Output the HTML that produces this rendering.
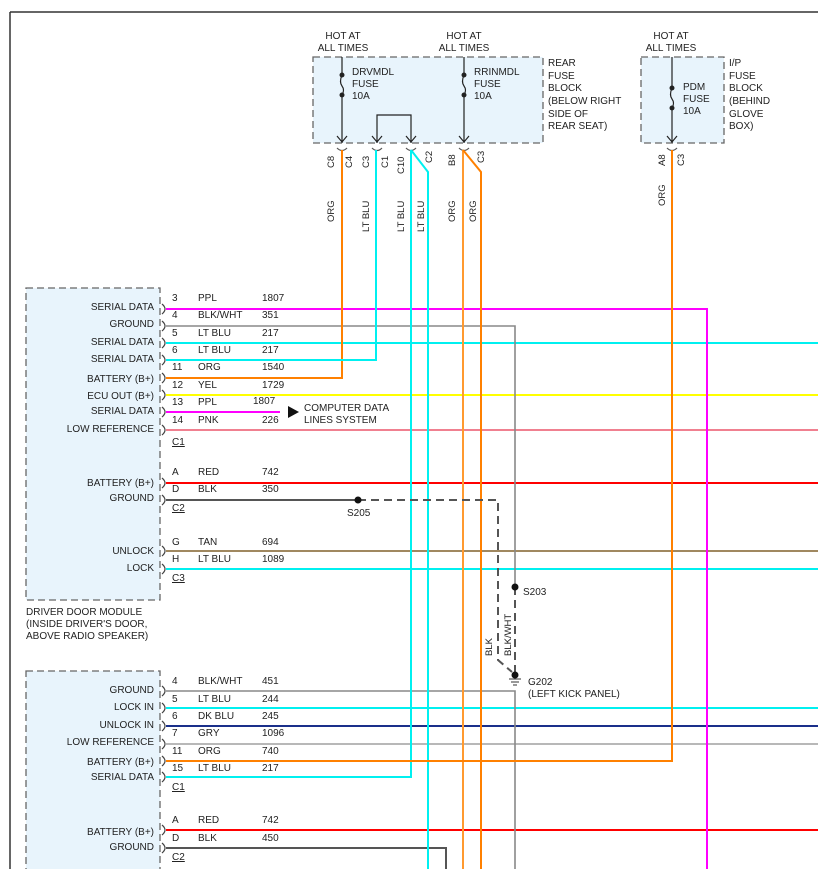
<!DOCTYPE html>
<html><head><meta charset="utf-8"><style>
html,body{margin:0;padding:0;background:#fff;}
svg{display:block;font-family:"Liberation Sans",Arial,sans-serif;font-size:10px;fill:#222;}
text{fill:#222;}
</style></head><body>
<svg width="818" height="869" viewBox="0 0 818 869" xmlns="http://www.w3.org/2000/svg">
<!-- frame -->
<line x1="10" y1="12" x2="818" y2="12" stroke="#333" stroke-width="1.5"/>
<line x1="10" y1="12" x2="10" y2="869" stroke="#333" stroke-width="1.5"/>

<!-- fuse block boxes -->
<rect x="313" y="57" width="230" height="86" fill="#e8f4fc" stroke="#666" stroke-width="1.3" stroke-dasharray="7,4"/>
<rect x="641" y="57" width="83" height="86" fill="#e8f4fc" stroke="#666" stroke-width="1.3" stroke-dasharray="7,4"/>
<!-- module boxes -->
<rect x="26" y="288" width="134" height="312" fill="#e8f4fc" stroke="#666" stroke-width="1.3" stroke-dasharray="7,4"/>
<rect x="26" y="671" width="134" height="210" fill="#e8f4fc" stroke="#666" stroke-width="1.3" stroke-dasharray="7,4"/>

<g font-size="10">
<text x="343" y="39" text-anchor="middle">HOT AT</text>
<text x="343" y="51" text-anchor="middle">ALL TIMES</text>
<text x="464" y="39" text-anchor="middle">HOT AT</text>
<text x="464" y="51" text-anchor="middle">ALL TIMES</text>
<text x="671" y="39" text-anchor="middle">HOT AT</text>
<text x="671" y="51" text-anchor="middle">ALL TIMES</text>
<text x="352" y="75">DRVMDL</text><text x="352" y="87">FUSE</text><text x="352" y="99">10A</text>
<text x="474" y="75">RRINMDL</text><text x="474" y="87">FUSE</text><text x="474" y="99">10A</text>
<text x="683" y="90">PDM</text><text x="683" y="102">FUSE</text><text x="683" y="114">10A</text>
<text x="548" y="66">REAR</text><text x="548" y="79">FUSE</text><text x="548" y="91">BLOCK</text><text x="548" y="104">(BELOW RIGHT</text><text x="548" y="117">SIDE OF</text><text x="548" y="129">REAR SEAT)</text>
<text x="729" y="66">I/P</text><text x="729" y="79">FUSE</text><text x="729" y="91">BLOCK</text><text x="729" y="104">(BEHIND</text><text x="729" y="117">GLOVE</text><text x="729" y="129">BOX)</text>
</g>

<!-- fuse internals -->
<g stroke="#222" stroke-width="1.2" fill="none">
<line x1="342" y1="57" x2="342" y2="75"/><path d="M342 75 q-3 7 0 11 q3 4 0 9"/><line x1="342" y1="95" x2="342" y2="143"/>
<line x1="464" y1="57" x2="464" y2="75"/><path d="M464 75 q-3 7 0 11 q3 4 0 9"/><line x1="464" y1="95" x2="464" y2="143"/>
<line x1="672" y1="57" x2="672" y2="88"/><path d="M672 88 q-3 7 0 11 q3 4 0 9"/><line x1="672" y1="108" x2="672" y2="143"/>
<path d="M377 143 V115 H411 V143"/>
<path d="M337 136 l5 6 l5 -6 M372 136 l5 6 l5 -6 M406 136 l5 6 l5 -6 M459 136 l5 6 l5 -6 M667 136 l5 6 l5 -6"/>
<path d="M337 148 q5 5 10 0 M372 148 q5 5 10 0 M406 148 q5 5 10 0 M459 148 q5 5 10 0 M667 148 q5 5 10 0" stroke="#555"/>
</g>
<g fill="#222">
<circle cx="342" cy="75" r="2.5"/><circle cx="342" cy="95" r="2.5"/>
<circle cx="464" cy="75" r="2.5"/><circle cx="464" cy="95" r="2.5"/>
<circle cx="672" cy="88" r="2.5"/><circle cx="672" cy="108" r="2.5"/>
</g>

<!-- rotated labels -->
<g font-size="9.5">
<text transform="translate(334,168) rotate(-90)">C8</text>
<text transform="translate(352,168) rotate(-90)">C4</text>
<text transform="translate(369,168) rotate(-90)">C3</text>
<text transform="translate(388,168) rotate(-90)">C1</text>
<text transform="translate(404,174) rotate(-90)">C10</text>
<text transform="translate(432,163) rotate(-90)">C2</text>
<text transform="translate(455,166) rotate(-90)">B8</text>
<text transform="translate(484,163) rotate(-90)">C3</text>
<text transform="translate(665,166) rotate(-90)">A8</text>
<text transform="translate(684,166) rotate(-90)">C3</text>
<text transform="translate(334,222) rotate(-90)">ORG</text>
<text transform="translate(369,232) rotate(-90)">LT BLU</text>
<text transform="translate(404,232) rotate(-90)">LT BLU</text>
<text transform="translate(424,232) rotate(-90)">LT BLU</text>
<text transform="translate(455,222) rotate(-90)">ORG</text>
<text transform="translate(476,222) rotate(-90)">ORG</text>
<text transform="translate(665,206) rotate(-90)">ORG</text>
<text transform="translate(492,656) rotate(-90)">BLK</text>
<text transform="translate(511,656) rotate(-90)">BLK/WHT</text>
</g>

<!-- wires -->
<g fill="none" stroke-width="2">
<line x1="166" y1="343" x2="818" y2="343" stroke="#00f0f0"/>
<line x1="166" y1="395" x2="818" y2="395" stroke="#ffff00"/>
<line x1="166" y1="430" x2="818" y2="430" stroke="#f08090"/>
<line x1="166" y1="483" x2="818" y2="483" stroke="#ff0000"/>
<line x1="166" y1="551" x2="818" y2="551" stroke="#a08860"/>
<line x1="166" y1="569" x2="818" y2="569" stroke="#00f0f0"/>
<line x1="166" y1="708" x2="818" y2="708" stroke="#00f0f0"/>
<line x1="166" y1="726" x2="818" y2="726" stroke="#1a2f8a"/>
<line x1="166" y1="744" x2="818" y2="744" stroke="#b8b8b8"/>
<line x1="166" y1="830" x2="818" y2="830" stroke="#ff0000"/>
<path d="M166 848 H446 V869" stroke="#555"/>
<path d="M166 691 H515 V869" stroke="#888" stroke-width="1.6"/>
<path d="M166 326 H515 V587" stroke="#888" stroke-width="1.6"/>
<path d="M166 309 H707 V869" stroke="#ff00ff"/>
<path d="M342 150 V378 H166" stroke="#ff8000"/>
<path d="M376 150 V360 H166" stroke="#00f0f0"/>
<path d="M411 150 V777 H166" stroke="#00f0f0"/>
<path d="M411 150 L428 172 V869" stroke="#00f0f0"/>
<line x1="463" y1="150" x2="463" y2="869" stroke="#ff9a30"/>
<path d="M463 150 L481 172 V869" stroke="#ff8000"/>
<path d="M672 150 V761 H166" stroke="#ff8000"/>
<path d="M166 412 H280" stroke="#ff00ff"/>
<line x1="166" y1="500" x2="358" y2="500" stroke="#555"/>
<path d="M358 500 H498 V660 L512 672" stroke="#555" stroke-dasharray="8,5"/>
<path d="M515 587 V675" stroke="#555" stroke-dasharray="8,5"/>
</g>
<polygon points="288,406 299,412 288,418" fill="#111"/>
<text x="304" y="411" font-size="10">COMPUTER DATA</text>
<text x="304" y="423" font-size="10">LINES SYSTEM</text>
<g fill="#111"><circle cx="358" cy="500" r="3.5"/><circle cx="515" cy="587" r="3.5"/><circle cx="515" cy="675" r="3.5"/></g>
<g stroke="#333" stroke-width="1"><line x1="509" y1="679" x2="521" y2="679"/><line x1="511" y1="682" x2="519" y2="682"/><line x1="513" y1="685" x2="517" y2="685"/></g>
<text x="347" y="516">S205</text>
<text x="523" y="595">S203</text>
<text x="528" y="685">G202</text>
<text x="528" y="697">(LEFT KICK PANEL)</text>

<!-- connector brackets -->
<g stroke="#444" stroke-width="1.2" fill="none">
<path d="M162 304 q6 5 0 10 M162 321 q6 5 0 10 M162 338 q6 5 0 10 M162 355 q6 5 0 10 M162 373 q6 5 0 10 M162 390 q6 5 0 10 M162 407 q6 5 0 10 M162 425 q6 5 0 10"/>
<path d="M162 478 q6 5 0 10 M162 495 q6 5 0 10 M162 546 q6 5 0 10 M162 564 q6 5 0 10"/>
<path d="M162 686 q6 5 0 10 M162 703 q6 5 0 10 M162 721 q6 5 0 10 M162 739 q6 5 0 10 M162 756 q6 5 0 10 M162 772 q6 5 0 10 M162 825 q6 5 0 10 M162 843 q6 5 0 10"/>
</g>

<!-- module labels -->
<g font-size="10" text-anchor="end">
<text x="154" y="310">SERIAL DATA</text>
<text x="154" y="327">GROUND</text>
<text x="154" y="345">SERIAL DATA</text>
<text x="154" y="362">SERIAL DATA</text>
<text x="154" y="382">BATTERY (B+)</text>
<text x="154" y="399">ECU OUT (B+)</text>
<text x="154" y="414">SERIAL DATA</text>
<text x="154" y="432">LOW REFERENCE</text>
<text x="154" y="486">BATTERY (B+)</text>
<text x="154" y="501">GROUND</text>
<text x="154" y="554">UNLOCK</text>
<text x="154" y="571">LOCK</text>
<text x="154" y="693">GROUND</text>
<text x="154" y="710">LOCK IN</text>
<text x="154" y="728">UNLOCK IN</text>
<text x="154" y="745">LOW REFERENCE</text>
<text x="154" y="765">BATTERY (B+)</text>
<text x="154" y="780">SERIAL DATA</text>
<text x="154" y="835">BATTERY (B+)</text>
<text x="154" y="850">GROUND</text>
</g>
<g font-size="10">
<text x="26" y="615">DRIVER DOOR MODULE</text>
<text x="26" y="627">(INSIDE DRIVER'S DOOR,</text>
<text x="26" y="639">ABOVE RADIO SPEAKER)</text>
</g>

<!-- pin/color/circuit -->
<g font-size="10">
<text x="172" y="301">3</text><text x="198" y="301">PPL</text><text x="262" y="301">1807</text>
<text x="172" y="318">4</text><text x="198" y="318">BLK/WHT</text><text x="262" y="318">351</text>
<text x="172" y="336">5</text><text x="198" y="336">LT BLU</text><text x="262" y="336">217</text>
<text x="172" y="353">6</text><text x="198" y="353">LT BLU</text><text x="262" y="353">217</text>
<text x="172" y="370">11</text><text x="198" y="370">ORG</text><text x="262" y="370">1540</text>
<text x="172" y="388">12</text><text x="198" y="388">YEL</text><text x="262" y="388">1729</text>
<text x="172" y="405">13</text><text x="198" y="405">PPL</text><text x="253" y="404">1807</text>
<text x="172" y="423">14</text><text x="198" y="423">PNK</text><text x="262" y="423">226</text>
<text x="172" y="445" text-decoration="underline">C1</text>
<text x="172" y="475">A</text><text x="198" y="475">RED</text><text x="262" y="475">742</text>
<text x="172" y="492">D</text><text x="198" y="492">BLK</text><text x="262" y="492">350</text>
<text x="172" y="511" text-decoration="underline">C2</text>
<text x="172" y="545">G</text><text x="198" y="545">TAN</text><text x="262" y="545">694</text>
<text x="172" y="562">H</text><text x="198" y="562">LT BLU</text><text x="262" y="562">1089</text>
<text x="172" y="581" text-decoration="underline">C3</text>
<text x="172" y="684">4</text><text x="198" y="684">BLK/WHT</text><text x="262" y="684">451</text>
<text x="172" y="702">5</text><text x="198" y="702">LT BLU</text><text x="262" y="702">244</text>
<text x="172" y="719">6</text><text x="198" y="719">DK BLU</text><text x="262" y="719">245</text>
<text x="172" y="736">7</text><text x="198" y="736">GRY</text><text x="262" y="736">1096</text>
<text x="172" y="754">11</text><text x="198" y="754">ORG</text><text x="262" y="754">740</text>
<text x="172" y="771">15</text><text x="198" y="771">LT BLU</text><text x="262" y="771">217</text>
<text x="172" y="790" text-decoration="underline">C1</text>
<text x="172" y="823">A</text><text x="198" y="823">RED</text><text x="262" y="823">742</text>
<text x="172" y="841">D</text><text x="198" y="841">BLK</text><text x="262" y="841">450</text>
<text x="172" y="860" text-decoration="underline">C2</text>
</g>
</svg>
</body></html>
